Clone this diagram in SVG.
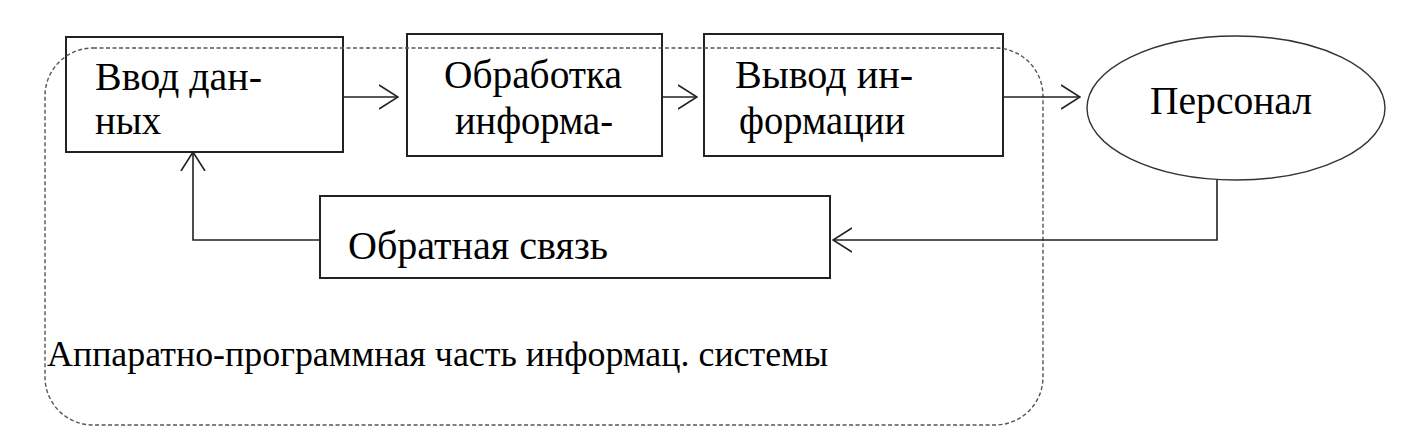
<svg xmlns="http://www.w3.org/2000/svg" width="1406" height="447" viewBox="0 0 1406 447">
<defs>
<style>
.box{fill:#fff;stroke:#222;stroke-width:2}
.t{font-family:"Liberation Serif","Times New Roman",Tinos,"Noto Serif","DejaVu Serif",serif;font-size:40px;fill:#000}
.c{fill:none;stroke:#222;stroke-width:1.6}
.dash{fill:none;stroke:#555;stroke-width:1.4;stroke-dasharray:4 2.5}
</style>
<marker id="arr" viewBox="0 0 20 26" refX="19" refY="13" markerWidth="20" markerHeight="26" markerUnits="userSpaceOnUse" orient="auto">
<path d="M0,1 L19,13 L0,25" fill="none" stroke="#222" stroke-width="1.6"/>
</marker>
</defs>
<rect width="1406" height="447" fill="#fff"/>
<g id="nodes">
<g id="input"><rect class="box" x="66" y="37" width="277" height="115"/>
<text class="t" x="95" y="90" textLength="167" lengthAdjust="spacingAndGlyphs">Ввод дан-</text><text class="t" x="95" y="134" textLength="66" lengthAdjust="spacingAndGlyphs">ных</text></g>
<g id="process"><rect class="box" x="407" y="34" width="255" height="122"/>
<text class="t" x="444" y="88" textLength="178" lengthAdjust="spacingAndGlyphs">Обработка</text><text class="t" x="455" y="134" textLength="158" lengthAdjust="spacingAndGlyphs">информа-</text></g>
<g id="output"><rect class="box" x="704" y="34" width="299" height="122"/>
<text class="t" x="735" y="88" textLength="178" lengthAdjust="spacingAndGlyphs">Вывод ин-</text><text class="t" x="739" y="134" textLength="166" lengthAdjust="spacingAndGlyphs">формации</text></g>
<g id="staff"><ellipse cx="1236" cy="108" rx="149" ry="72" fill="#fff" stroke="#333" stroke-width="1.4"/>
<text class="t" x="1150" y="114" textLength="162" lengthAdjust="spacingAndGlyphs">Персонал</text></g>
<g id="feedback"><rect class="box" x="320" y="196" width="510" height="82"/>
<text class="t" x="348" y="259" textLength="260" lengthAdjust="spacingAndGlyphs">Обратная связь</text></g>
</g>
<g id="system"><rect class="dash" x="45" y="48" width="998" height="377" rx="48" ry="48"/>
<text class="t" x="47" y="366" style="font-size:36px" textLength="781" lengthAdjust="spacingAndGlyphs">Аппаратно-программная часть информац. системы</text></g>
<g id="connectors">
<line class="c" x1="343" y1="97" x2="398" y2="97" marker-end="url(#arr)"/>
<line class="c" x1="662" y1="97" x2="697" y2="97" marker-end="url(#arr)"/>
<line class="c" x1="1003" y1="97" x2="1080" y2="97" marker-end="url(#arr)"/>
<polyline class="c" points="1217,180 1217,240 833,240" marker-end="url(#arr)"/>
<polyline class="c" points="320,240 193,240 193,152" marker-end="url(#arr)"/>
</g>
</svg>
